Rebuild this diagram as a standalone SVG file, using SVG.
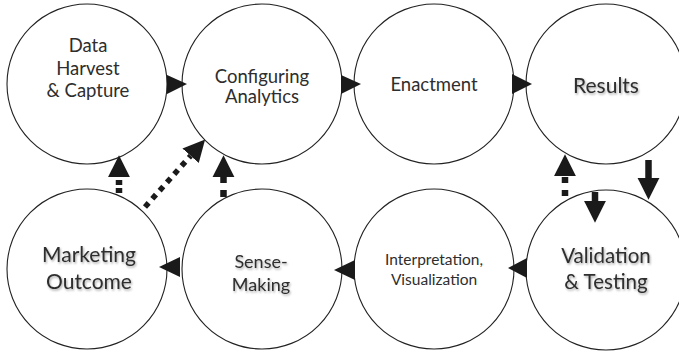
<svg xmlns="http://www.w3.org/2000/svg" width="679" height="353" viewBox="0 0 679 353">
<style>
  .node circle { fill: #fff; stroke: #222; stroke-width: 1.1; }
  text { font-family: Lato, "Liberation Sans", sans-serif; fill: #2e2e2e; text-anchor: middle; }
  .sh { filter: url(#shadow); }
  .tri { fill: #1a1a1a; stroke: none; }
  .solid { stroke: #1a1a1a; stroke-width: 6.5; fill: none; marker-end: url(#ah); }
  .dash { stroke: #1a1a1a; stroke-width: 6.5; fill: none; marker-end: url(#ah); }
  .dot { stroke: #1a1a1a; stroke-width: 5.5; fill: none; stroke-dasharray: 5.5 5.5; marker-end: url(#ah); }
</style>
<defs>
  <marker id="ah" markerUnits="userSpaceOnUse" markerWidth="22" markerHeight="24" viewBox="0 -11 20 22" refX="0" refY="0" orient="auto">
    <path d="M0,-10 L20,0 L0,10 z" fill="#1a1a1a"/>
  </marker>
  <filter id="shadow" x="-10%" y="-20%" width="130%" height="150%">
    <feDropShadow dx="1" dy="1.5" stdDeviation="1" flood-color="#000" flood-opacity="0.35"/>
  </filter>
</defs>
<rect width="679" height="353" fill="#fff"/>

<g id="n1" class="node">
  <circle cx="87" cy="84" r="80"/>
  <text font-size="18.5" x="88" y="52">Data</text>
  <text font-size="18.5" x="88" y="75">Harvest</text>
  <text font-size="18.5" x="88" y="97">&amp; Capture</text>
</g>
<g id="n2" class="node">
  <circle cx="262" cy="84" r="80"/>
  <text font-size="18.5" x="262" y="83">Configuring</text>
  <text font-size="18.5" x="262" y="103">Analytics</text>
</g>
<g id="n3" class="node">
  <circle cx="434" cy="84" r="80"/>
  <text font-size="18.5" x="434" y="91">Enactment</text>
</g>
<g id="n4" class="node">
  <circle cx="606" cy="84" r="80"/>
  <text class="sh" font-size="21" x="606" y="93">Results</text>
</g>
<g id="n5" class="node">
  <circle cx="87" cy="269" r="80"/>
  <text class="sh" font-size="21" x="89" y="262">Marketing</text>
  <text class="sh" font-size="21" x="89" y="289">Outcome</text>
</g>
<g id="n6" class="node">
  <circle cx="262" cy="269" r="80"/>
  <text class="sh" font-size="18" x="261" y="268">Sense-</text>
  <text class="sh" font-size="18" x="261" y="291">Making</text>
</g>
<g id="n7" class="node">
  <circle cx="434" cy="269" r="80"/>
  <text font-size="15.5" x="434" y="265">Interpretation,</text>
  <text font-size="15.5" x="434" y="285">Visualization</text>
</g>
<g id="n8" class="node">
  <circle cx="606" cy="270" r="80"/>
  <text class="sh" font-size="20.5" x="606" y="263">Validation</text>
  <text class="sh" font-size="20.5" x="606" y="289">&amp; Testing</text>
</g>

<g id="connectors">
  <!-- top row flow -->
  <path class="tri" d="M167,75 L187,84 L167,94 z"/>
  <path class="tri" d="M341,75 L361,84 L341,94 z"/>
  <path class="tri" d="M512,74 L532,84 L512,94 z"/>
  <!-- bottom row flow -->
  <path class="tri" d="M180,257 L159,267 L180,277 z"/>
  <path class="tri" d="M355,260 L334,270 L355,280 z"/>
  <path class="tri" d="M527,258 L508,268 L527,278 z"/>
  <!-- Results down to Validation -->
  <line class="solid" x1="648.5" y1="160" x2="648.5" y2="178"/>
  <line class="solid" x1="595" y1="192" x2="595" y2="201"/>
  <!-- dashed feedback -->
  <line class="dash" stroke-dasharray="6 7" x1="565" y1="196" x2="565" y2="176"/>
  <line class="dash" stroke-dasharray="5 3" x1="119" y1="193" x2="119" y2="177"/>
  <line class="dash" stroke-dasharray="7 7" x1="223.5" y1="197" x2="223.5" y2="177"/>
  <!-- diagonal dotted -->
  <line class="dot" x1="145" y1="207" x2="190.6" y2="155.8"/>
</g>
</svg>
